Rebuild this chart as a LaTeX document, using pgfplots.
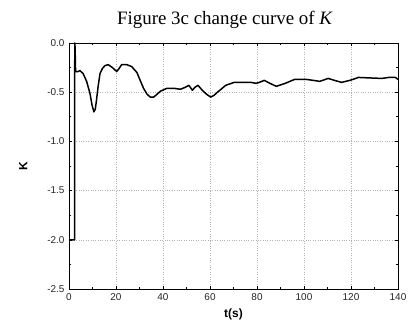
\documentclass[border=0pt]{standalone}
\usepackage{pgfplots}
\pgfplotsset{compat=1.18}
\usepackage{fontspec}
\setmainfont{Liberation Serif}
\newfontfamily\arial{Liberation Sans}
\begin{document}
\begin{tikzpicture}
\path[use as bounding box] (-69bp,-41bp) rectangle (339bp,289bp);
\begin{axis}[
  at={(0,0)}, anchor=south west,
  scale only axis, width=329bp, height=246bp,
  xmin=0, xmax=140, ymin=-2.5, ymax=0,
  xtick={0,20,...,140}, ytick={-2.5,-2,...,0},
  minor xtick={10,30,...,130}, minor ytick={-2.25,-1.75,...,-0.25},
  tick align=inside, major tick length=3bp, minor tick length=2bp,
  every tick/.style={black, line width=0.6pt},
  axis line style={line width=0.9pt},
  grid=major,
  major grid style={gray!60, dotted, line width=0.6pt},
  /pgf/number format/assume math mode=true,
  ticklabel style={font=\arial\fontsize{10}{12}\selectfont, text=black!85},
  yticklabel style={/pgf/number format/fixed, /pgf/number format/fixed zerofill, /pgf/number format/precision=1, xshift=-1bp},
  xticklabel style={/pgf/number format/fixed, yshift=-1bp},
  xlabel={\arial\bfseries t(s)},
  ylabel={\arial\bfseries K},
  xlabel style={font=\fontsize{12}{14}\selectfont, yshift=-1bp},
  ylabel style={font=\fontsize{12}{14}\selectfont, yshift=13bp},
]
\addplot[black, line width=1.5pt, line join=round] coordinates {
(0,0) (0.05,-2.0) (2.4,-2.0) (2.45,0) (2.6,-0.05) (2.8,-0.29) (3.9,-0.29) (4.6,-0.28) (6,-0.31) (7.5,-0.39) (8.9,-0.51) (9.8,-0.63) (10.6,-0.70) (11.2,-0.67) (11.7,-0.58) (12.4,-0.44) (13.2,-0.31) (14.2,-0.26) (15.3,-0.23) (16.7,-0.22) (18.5,-0.25) (20.3,-0.29) (21.3,-0.26) (22.4,-0.22) (24.6,-0.22) (26.7,-0.24) (28.9,-0.30) (30.3,-0.38) (31.7,-0.46) (33.2,-0.52) (34.6,-0.55) (36,-0.55) (37.5,-0.52) (38.9,-0.49) (41.7,-0.46) (44.5,-0.46) (47.4,-0.47) (49.5,-0.45) (51,-0.43) (52.5,-0.48) (53.6,-0.45) (54.9,-0.43) (56.7,-0.48) (58.5,-0.52) (60.3,-0.55) (61.8,-0.53) (63.2,-0.50) (66.7,-0.43) (70.3,-0.40) (73.1,-0.40) (77.4,-0.40) (79.6,-0.41) (81,-0.40) (83.1,-0.38) (85.5,-0.41) (88.2,-0.44) (92,-0.41) (96,-0.37) (101,-0.37) (104,-0.38) (106.7,-0.39) (110.3,-0.36) (113,-0.38) (116,-0.40) (119.5,-0.38) (123.2,-0.35) (128,-0.355) (133.2,-0.36) (136,-0.35) (138.9,-0.35) (140,-0.37)
};
\end{axis}
\node[anchor=base, font=\fontsize{19}{22}\selectfont] at (156bp,264bp) {Figure 3c change curve of \textit{K}};
\end{tikzpicture}
\end{document}
